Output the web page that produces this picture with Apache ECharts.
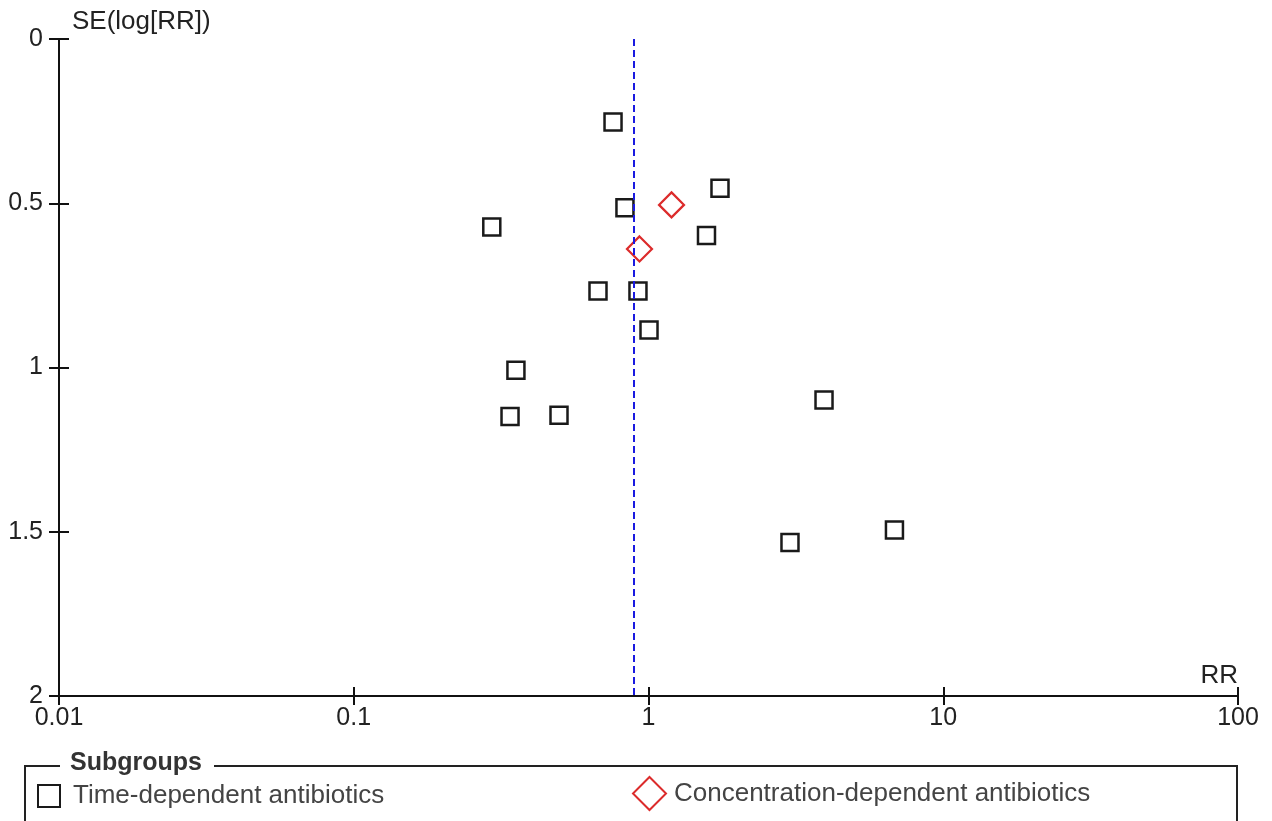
<!DOCTYPE html>
<html>
<head>
<meta charset="utf-8">
<script src="https://cdn.jsdelivr.net/npm/echarts@6/dist/echarts.min.js"></script>
<style>html,body{margin:0;padding:0;background:#fff}#c{width:1272px;height:821px}</style>
</head>
<body>
<div id="c"></div>
<script>
// Time-dependent antibiotics: RR and SE(log[RR])
var timeRR = [0.758, 1.748, 0.832, 0.294, 1.573, 0.674, 0.921, 1.004, 0.355, 3.94, 0.339, 0.497, 6.83, 3.02];
var timeSE = [0.253, 0.454, 0.514, 0.572, 0.598, 0.767, 0.767, 0.886, 1.008, 1.099, 1.149, 1.145, 1.495, 1.533];
// Concentration-dependent antibiotics
var concRR = [1.197, 0.932];
var concSE = [0.505, 0.639];
// pooled estimate (dashed line)
var pooledRR = [0.889];
var xTicks = [0.01, 0.1, 1, 10, 100];
var yTicks = [0, 0.5, 1, 1.5, 2];
var seriesNames = ['Time-dependent antibiotics', 'Concentration-dependent antibiotics'];

var FONT = '"Liberation Sans", Arial, sans-serif';
var FS = 25;   // tick labels
var FN = 26;   // names / legend

function pairs(xs, ys) { return xs.map(function (v, i) { return [v, ys[i]]; }); }

var chart = echarts.init(document.getElementById('c'), null, { renderer: 'canvas' });
var axisX = {
  type: 'log', logBase: 10, min: xTicks[0], max: xTicks[xTicks.length - 1],
  splitLine: { show: false }
};
var axisY = {
  type: 'value', inverse: true, min: yTicks[0], max: yTicks[yTicks.length - 1], interval: 0.5,
  splitLine: { show: false }
};
chart.setOption({
  animation: false,
  backgroundColor: '#fff',
  textStyle: { fontFamily: FONT },
  grid: { left: 59, right: 34, top: 39, bottom: 125, containLabel: false },
  xAxis: [
    Object.assign({}, axisX, {
      position: 'bottom',
      name: 'RR', nameLocation: 'end', nameGap: 0,
      nameTextStyle: { fontFamily: FONT, fontSize: FN, color: '#222', align: 'right', verticalAlign: 'bottom', padding: [0, 0, 7, 0] },
      axisLine: { show: true, onZero: false, lineStyle: { color: '#111', width: 2 } },
      axisTick: { show: true, inside: false, length: 9, lineStyle: { color: '#111', width: 2 } },
      axisLabel: { show: true, margin: 10, fontFamily: FONT, fontSize: FS, color: '#222',
        formatter: function (v) { return String(v); } }
    }),
    Object.assign({}, axisX, {
      position: 'bottom',
      axisLine: { show: false, onZero: false },
      axisTick: { show: true, inside: true, length: 9, lineStyle: { color: '#111', width: 2 } },
      axisLabel: { show: false }
    })
  ],
  yAxis: [
    Object.assign({}, axisY, {
      position: 'left',
      name: 'SE(log[RR])', nameLocation: 'start', nameGap: 4,
      nameTextStyle: { fontFamily: FONT, fontSize: FN, color: '#222', align: 'left', verticalAlign: 'bottom', padding: [0, 0, 0, 13] },
      axisLine: { show: true, onZero: false, lineStyle: { color: '#111', width: 2 } },
      axisTick: { show: true, inside: false, length: 10, lineStyle: { color: '#111', width: 2 } },
      axisLabel: { show: true, margin: 16, fontFamily: FONT, fontSize: FS, color: '#222',
        formatter: function (v) { return String(v); } }
    }),
    Object.assign({}, axisY, {
      position: 'left',
      axisLine: { show: false, onZero: false },
      axisTick: { show: true, inside: true, length: 10, lineStyle: { color: '#111', width: 2 } },
      axisLabel: { show: false }
    })
  ],
  legend: [
    {
      left: 37, top: 783, padding: 0, itemWidth: 22, itemHeight: 22,
      data: [{ name: seriesNames[0], icon: 'rect' }],
      textStyle: { fontFamily: FONT, fontSize: FN, color: '#444', padding: [0, 0, 0, 8] },
      selectedMode: false
    },
    {
      left: 632, top: 776, padding: 0, itemWidth: 33, itemHeight: 33,
      data: [{ name: seriesNames[1], icon: 'diamond' }],
      textStyle: { fontFamily: FONT, fontSize: FN, color: '#444', padding: [0, 0, 0, 3] },
      selectedMode: false
    }
  ],
  graphic: [
    { type: 'polyline', silent: true, shape: { points: [[60, 766], [25, 766], [25, 840]] }, style: { stroke: '#222', lineWidth: 2, fill: null } },
    { type: 'polyline', silent: true, shape: { points: [[214, 766], [1237, 766], [1237, 840]] }, style: { stroke: '#222', lineWidth: 2, fill: null } },
    { type: 'text', silent: true, left: 70, top: 751, style: { text: 'Subgroups', font: 'bold 25px ' + FONT, fill: '#333' } }
  ],
  series: [
    {
      name: seriesNames[0], type: 'scatter', xAxisIndex: 0, yAxisIndex: 0,
      symbol: 'rect', symbolSize: 17, silent: true,
      itemStyle: { color: 'rgba(255,255,255,0)', borderColor: '#1a1a1a', borderWidth: 2.5, opacity: 1 },
      data: pairs(timeRR, timeSE), z: 3
    },
    {
      name: seriesNames[1], type: 'scatter', xAxisIndex: 0, yAxisIndex: 0,
      symbol: 'diamond', symbolSize: 25, silent: true,
      itemStyle: { color: 'rgba(255,255,255,0)', borderColor: '#dc2b2b', borderWidth: 2.2, opacity: 1 },
      data: pairs(concRR, concSE), z: 3,
      markLine: {
        silent: true, symbol: ['none', 'none'], label: { show: false },
        lineStyle: { color: '#1a1ae0', type: [7, 4], width: 2 },
        data: pooledRR.map(function (v) { return { xAxis: v }; }),
        z: 5
      }
    }
  ]
});
</script>
</body>
</html>
